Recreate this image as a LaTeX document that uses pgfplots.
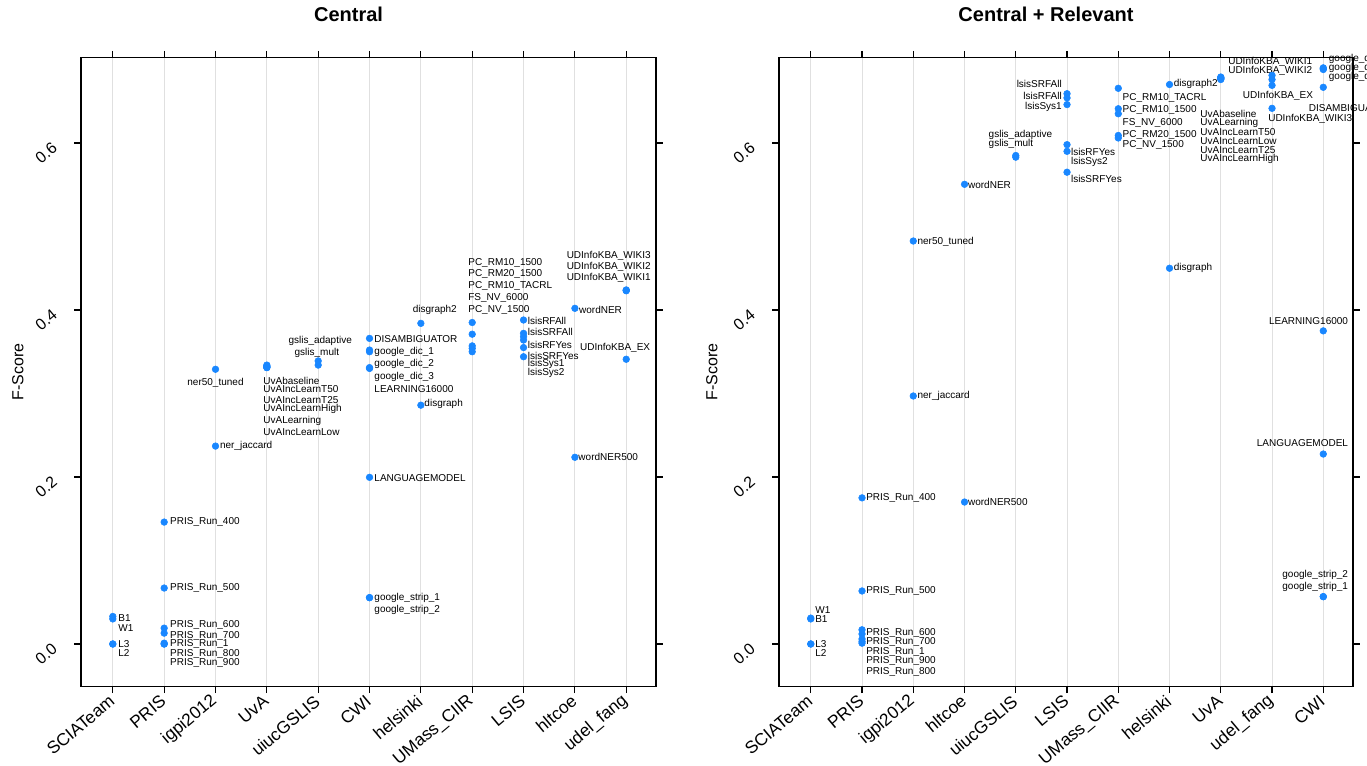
\documentclass[border=0pt]{standalone}
\usepackage{pgfplots}
\pgfplotsset{compat=1.18}
\usepackage{fontspec}
\setmainfont{Liberation Sans}
\definecolor{dot}{RGB}{25,135,255}
\tikzset{lbl/.style={font=\fontsize{7.5}{8}\selectfont, inner sep=0pt, text=black}}
\newcommand{\plab}[5]{\node[lbl,anchor=#1,xshift=#2] at (axis cs:#3,#4) {#5};}
\pgfplotsset{
  panel/.style={
    scale only axis, height=471.75pt, anchor=south west,
    xmin=0.38, xmax=11.58, ymin=-0.0509, ymax=0.7024,
    xtick={1,...,11}, ytick={0,0.2,0.4,0.6}, yticklabels={0.0,0.2,0.4,0.6},
    tick align=outside, major tick length=5pt,
    xmajorgrids, major x grid style={draw=black!12, line width=0.8pt},
    axis line style={line width=0.9pt},
    every tick/.style={black, line width=0.9pt},
    xticklabel style={font=\fontsize{13}{15}\selectfont, xshift=2pt, yshift=-2pt, rotate=40, anchor=east},
    yticklabel style={font=\fontsize{12}{14}\selectfont, xshift=-12pt, rotate=40, anchor=east},
    ylabel={F-Score},
    ylabel style={font=\fontsize{12}{14}\selectfont, anchor=center},
    clip=false,
  },
  dots/.style={only marks, mark=*, mark size=2.5pt, draw=dot, fill=dot},
}
\begin{document}
\begin{tikzpicture}
\useasboundingbox (0pt,0pt) rectangle (1025.25pt,574.5pt);
% ---------------- left panel ----------------
\begin{axis}[panel, at={(60.75pt,59.625pt)}, width=431.25pt,
  xticklabels={SCIATeam,PRIS,igpi2012,UvA,uiucGSLIS,CWI,helsinki,UMass\_CIIR,LSIS,hltcoe,udel\_fang},
  ylabel style={at={(axis description cs:-0.11,0.5)}}]
\addplot[dots] coordinates {
 (1,0.033) (1,0.030) (1,0.000) (1,0.000)
 (2,0.146) (2,0.067) (2,0.019) (2,0.013) (2,0.001) (2,0.000) (2,0.000)
 (3,0.329) (3,0.237)
 (4,0.334) (4,0.333) (4,0.332) (4,0.332) (4,0.331) (4,0.331)
 (5,0.339) (5,0.334)
 (6,0.366) (6,0.352) (6,0.350) (6,0.331) (6,0.330) (6,0.1996) (6,0.0555) (6,0.0555)
 (7,0.384) (7,0.286)
 (8,0.385) (8,0.371) (8,0.357) (8,0.354) (8,0.350)
 (9,0.388) (9,0.372) (9,0.368) (9,0.364) (9,0.355) (9,0.344)
 (10,0.402) (10,0.2236)
 (11,0.424) (11,0.4235) (11,0.423) (11,0.341)
};
\plab{west}{4pt}{1}{0.0311}{B1}
\plab{west}{4pt}{1}{0.0188}{W1}
\plab{west}{4pt}{1}{0.0}{L3}
\plab{west}{4pt}{1}{-0.0111}{L2}
\plab{west}{4.3pt}{2}{0.1461}{PRIS\_Run\_400}
\plab{west}{4.3pt}{2}{0.0667}{PRIS\_Run\_500}
\plab{west}{4.3pt}{2}{0.0228}{PRIS\_Run\_600}
\plab{west}{4.3pt}{2}{0.0096}{PRIS\_Run\_700}
\plab{west}{4.3pt}{2}{-0.0004}{PRIS\_Run\_1}
\plab{west}{4.3pt}{2}{-0.0120}{PRIS\_Run\_800}
\plab{west}{4.3pt}{2}{-0.0231}{PRIS\_Run\_900}
\plab{center}{0pt}{3}{0.3126}{ner50\_tuned}
\plab{west}{3.2pt}{3}{0.2371}{ner\_jaccard}
\plab{west}{-2.8pt}{4}{0.3153}{UvAbaseline}
\plab{west}{-2.8pt}{4}{0.3050}{UvAIncLearnT50}
\plab{west}{-2.8pt}{4}{0.2922}{UvAIncLearnT25}
\plab{west}{-2.8pt}{4}{0.2814}{UvAIncLearnHigh}
\plab{west}{-2.8pt}{4}{0.2674}{UvALearning}
\plab{west}{-2.8pt}{4}{0.2543}{UvAIncLearnLow}
\plab{center}{1.5pt}{5}{0.3632}{gslis\_adaptive}
\plab{center}{-1pt}{5}{0.3485}{gslis\_mult}
\plab{west}{3.5pt}{6}{0.3653}{DISAMBIGUATOR}
\plab{west}{3.5pt}{6}{0.3493}{google\_dic\_1}
\plab{west}{3.5pt}{6}{0.3350}{google\_dic\_2}
\plab{west}{3.5pt}{6}{0.3194}{google\_dic\_3}
\plab{west}{3.5pt}{6}{0.3050}{LEARNING16000}
\plab{west}{3.5pt}{6}{0.1984}{LANGUAGEMODEL}
\plab{west}{3.5pt}{6}{0.0557}{google\_strip\_1}
\plab{west}{3.5pt}{6}{0.0407}{google\_strip\_2}
\plab{west}{-6.2pt}{7}{0.4}{disgraph2}
\plab{west}{2.5pt}{7}{0.2871}{disgraph}
\plab{west}{-3.1pt}{8}{0.4559}{PC\_RM10\_1500}
\plab{west}{-3.1pt}{8}{0.4428}{PC\_RM20\_1500}
\plab{west}{-3.1pt}{8}{0.4291}{PC\_RM10\_TACRL}
\plab{west}{-3.1pt}{8}{0.4147}{FS\_NV\_6000}
\plab{west}{-3.1pt}{8}{0.4004}{PC\_NV\_1500}
\plab{west}{3pt}{9}{0.3872}{lsisRFAll}
\plab{west}{3pt}{9}{0.3740}{lsisSRFAll}
\plab{west}{3pt}{9}{0.3581}{lsisRFYes}
\plab{west}{3pt}{9}{0.3453}{lsisSRFYes}
\plab{west}{3pt}{9}{0.3350}{lsisSys1}
\plab{west}{3pt}{9}{0.3242}{lsisSys2}
\plab{west}{3pt}{10}{0.4}{wordNER}
\plab{west}{2.5pt}{10}{0.2236}{wordNER500}
\plab{west}{-44.8pt}{11}{0.4650}{UDInfoKBA\_WIKI3}
\plab{west}{-44.8pt}{11}{0.4519}{UDInfoKBA\_WIKI2}
\plab{west}{-44.8pt}{11}{0.4387}{UDInfoKBA\_WIKI1}
\plab{west}{-34.8pt}{11}{0.3541}{UDInfoKBA\_EX}
\end{axis}
% ---------------- right panel ----------------
\begin{axis}[panel, at={(584.25pt,59.625pt)}, width=430.5pt,
  xticklabels={SCIATeam,PRIS,igpi2012,hltcoe,uiucGSLIS,LSIS,UMass\_CIIR,helsinki,UvA,udel\_fang,CWI},
  ylabel style={at={(axis description cs:-0.117,0.5)}}]
\addplot[dots] coordinates {
 (1,0.031) (1,0.030) (1,0.000) (1,0.000)
 (2,0.175) (2,0.0635) (2,0.017) (2,0.012) (2,0.006) (2,0.003) (2,0.001)
 (3,0.4826) (3,0.297)
 (4,0.5505) (4,0.170)
 (5,0.585) (5,0.583)
 (6,0.659) (6,0.654) (6,0.646) (6,0.598) (6,0.590) (6,0.565)
 (7,0.6655) (7,0.641) (7,0.635) (7,0.609) (7,0.606)
 (8,0.670) (8,0.450)
 (9,0.679) (9,0.678) (9,0.678) (9,0.677) (9,0.677) (9,0.676)
 (10,0.681) (10,0.676) (10,0.669) (10,0.6415)
 (11,0.690) (11,0.689) (11,0.688) (11,0.6667) (11,0.375) (11,0.2275) (11,0.0567) (11,0.0567)
};
\plab{west}{3.2pt}{1}{0.0407}{W1}
\plab{west}{3.2pt}{1}{0.0299}{B1}
\plab{west}{3.2pt}{1}{0.0}{L3}
\plab{west}{3.2pt}{1}{-0.0111}{L2}
\plab{west}{3pt}{2}{0.1749}{PRIS\_Run\_400}
\plab{west}{3pt}{2}{0.0635}{PRIS\_Run\_500}
\plab{west}{3pt}{2}{0.0135}{PRIS\_Run\_600}
\plab{west}{3pt}{2}{0.0028}{PRIS\_Run\_700}
\plab{west}{3pt}{2}{-0.0099}{PRIS\_Run\_1}
\plab{west}{3pt}{2}{-0.0207}{PRIS\_Run\_900}
\plab{west}{3pt}{2}{-0.0332}{PRIS\_Run\_800}
\plab{west}{3pt}{3}{0.4814}{ner50\_tuned}
\plab{west}{3pt}{3}{0.2970}{ner\_jaccard}
\plab{west}{2.5pt}{4}{0.5497}{wordNER}
\plab{west}{2.5pt}{4}{0.1700}{wordNER500}
\plab{west}{-20.5pt}{5}{0.6096}{gslis\_adaptive}
\plab{west}{-20.5pt}{5}{0.5988}{gslis\_mult}
\plab{east}{-3.75pt}{6}{0.6703}{lsisSRFAll}
\plab{east}{-3.75pt}{6}{0.6566}{lsisRFAll}
\plab{east}{-3.75pt}{6}{0.6435}{lsisSys1}
\plab{west}{2.8pt}{6}{0.5889}{lsisRFYes}
\plab{west}{2.8pt}{6}{0.5769}{lsisSys2}
\plab{west}{2.8pt}{6}{0.5569}{lsisSRFYes}
\plab{west}{3.1pt}{7}{0.6543}{PC\_RM10\_TACRL}
\plab{west}{3.1pt}{7}{0.6395}{PC\_RM10\_1500}
\plab{west}{3.1pt}{7}{0.6243}{FS\_NV\_6000}
\plab{west}{3.1pt}{7}{0.6096}{PC\_RM20\_1500}
\plab{west}{3.1pt}{7}{0.5976}{PC\_NV\_1500}
\plab{west}{3pt}{8}{0.6703}{disgraph2}
\plab{west}{3pt}{8}{0.4503}{disgraph}
\plab{west}{-15.5pt}{9}{0.6347}{UvAbaseline}
\plab{west}{-15.5pt}{9}{0.6243}{UvALearning}
\plab{west}{-15.5pt}{9}{0.6128}{UvAIncLearnT50}
\plab{west}{-15.5pt}{9}{0.6024}{UvAIncLearnLow}
\plab{west}{-15.5pt}{9}{0.5916}{UvAIncLearnT25}
\plab{west}{-15.5pt}{9}{0.5805}{UvAIncLearnHigh}
\plab{west}{-33pt}{10}{0.6966}{UDInfoKBA\_WIKI1}
\plab{west}{-33pt}{10}{0.6866}{UDInfoKBA\_WIKI2}
\plab{west}{-22pt}{10}{0.6566}{UDInfoKBA\_EX}
\plab{west}{-3pt}{10}{0.6287}{UDInfoKBA\_WIKI3}
\plab{west}{4pt}{11}{0.7002}{google\_dic\_1}
\plab{west}{4pt}{11}{0.6895}{google\_dic\_2}
\plab{west}{4pt}{11}{0.6787}{google\_dic\_3}
\plab{west}{-11pt}{11}{0.6423}{DISAMBIGUATOR}
\plab{east}{18.75pt}{11}{0.3872}{LEARNING16000}
\plab{east}{18.75pt}{11}{0.2411}{LANGUAGEMODEL}
\plab{east}{18.75pt}{11}{0.0826}{google\_strip\_2}
\plab{east}{18.75pt}{11}{0.0686}{google\_strip\_1}
\end{axis}
\node[font=\bfseries\fontsize{15}{17}\selectfont] at (261.4pt,564pt) {Central};
\node[font=\bfseries\fontsize{15}{17}\selectfont] at (784.5pt,564pt) {Central + Relevant};
\end{tikzpicture}
\end{document}
